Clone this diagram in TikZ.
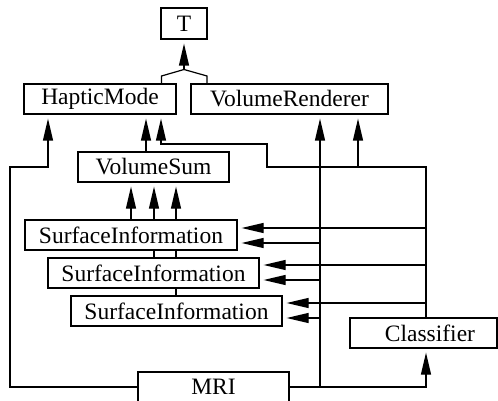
\documentclass[tikz,border=0pt]{standalone}
\usepackage{fontspec}
\setmainfont{Liberation Serif}
\usetikzlibrary{arrows.meta}
\begin{document}
\begin{tikzpicture}[x=1pt,y=-1pt, line width=1.2pt,
  box/.style={draw, rectangle, inner sep=0pt, minimum height=30pt, font=\fontsize{23.5}{26}\selectfont},
  arr/.style={-{Triangle[length=22pt,width=10pt]}, shorten >=4pt}]
\useasboundingbox (0,0) rectangle (498,401);
\node[box, minimum width=46pt, minimum height=31pt] (T) at (184,23.5) {T};
\node[box, minimum width=152pt] (HM) at (100,99) {HapticMode};
\node[box, minimum width=197pt] (VR) at (289.5,99) {VolumeRenderer};
\node[box, minimum width=151pt] (VS) at (153.5,167) {VolumeSum};
\node[box, minimum width=212pt] (S1) at (131,235) {SurfaceInformation};
\node[box, minimum width=211pt] (S2) at (153.5,273) {SurfaceInformation};
\node[box, minimum width=211pt] (S3) at (176.5,311) {SurfaceInformation};
\node[box, minimum width=147pt, text width=103pt, align=right] (CL) at (423.5,333) {Classifier};
\node[box, minimum width=151pt] (MRI) at (213.5,387) {MRI};
% inheritance fork
\coordinate (fork) at (184,69.5);
\draw (161.5,0 |- HM.north) -- (161.5,76) -- (fork);
\draw (207,0 |- VR.north) -- (207,76) -- (fork);
\draw[arr] (fork) -- (T);
% MRI to HapticMode (left)
\draw[arr] (MRI.west) -| (10,167) -| (48,0 |- HM.south);
% VolumeSum to HapticMode
\draw[arr] (146,0 |- VS.north) -- (146,0 |- HM.south);
% Classifier paths
\draw[arr] (426,0 |- CL.north) -- (426,167) -| (267,144) -| (161,0 |- HM.south);
\draw[arr] (358,167) -- (358,0 |- VR.south);
\draw[arr] (426,228) -- (S1.east |- 0,228);
\draw[arr] (426,265) -- (S2.east |- 0,265);
\draw[arr] (426,303) -- (S3.east |- 0,303);
% MRI paths
\draw[arr] (MRI.east) -| (426,0 |- CL.south);
\draw[arr] (320,387) -- (320,0 |- VR.south);
\draw[arr] (320,243) -- (S1.east |- 0,243);
\draw[arr] (320,280) -- (S2.east |- 0,280);
\draw[arr] (320,318) -- (S3.east |- 0,318);
% SurfaceInformation to VolumeSum
\draw[arr] (131,0 |- S1.north) -- (131,0 |- VS.south);
\draw[arr] (154,0 |- S1.north) -- (154,0 |- VS.south);
\draw[arr] (176,0 |- S1.north) -- (176,0 |- VS.south);
% links between SurfaceInformation boxes
\draw (154,0 |- S1.south) -- (154,0 |- S2.north);
\draw (176,0 |- S1.south) -- (176,0 |- S2.north);
\draw (176,0 |- S2.south) -- (176,0 |- S3.north);
\end{tikzpicture}
\end{document}
